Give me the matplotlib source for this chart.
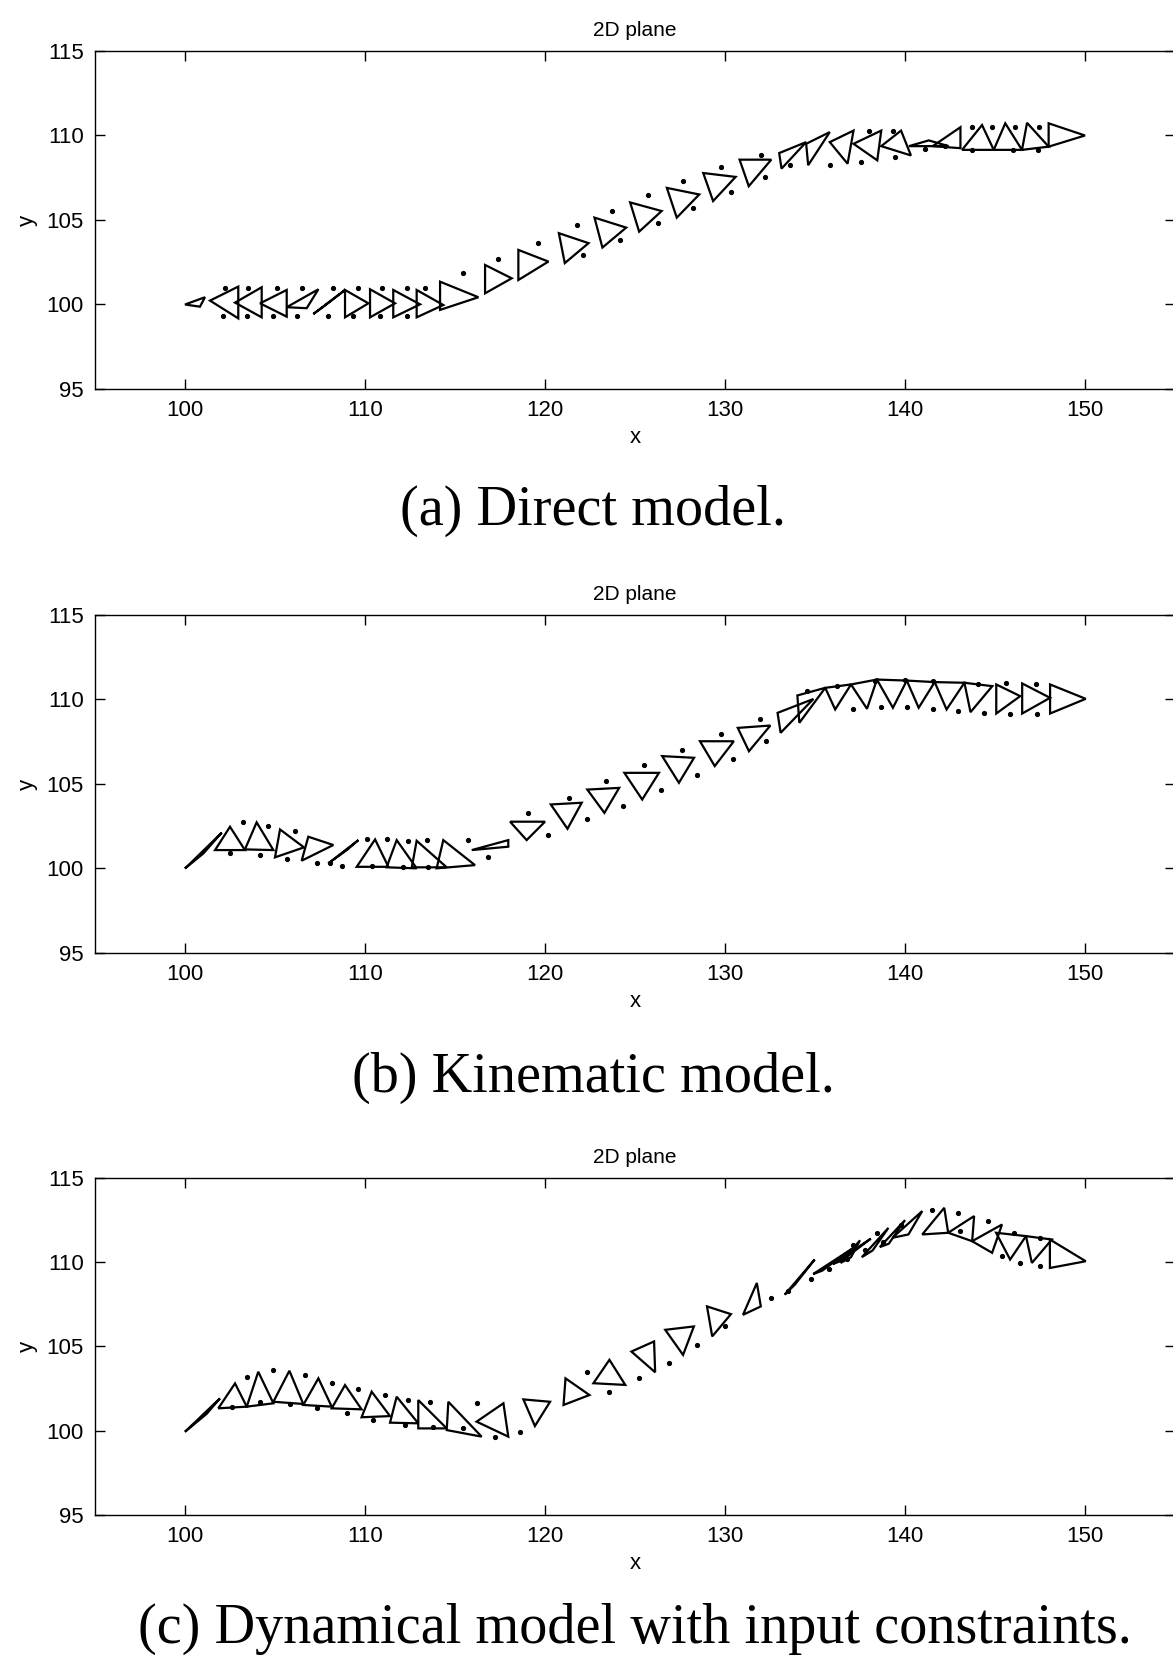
import numpy as np
import matplotlib
matplotlib.use("Agg")
import matplotlib.pyplot as plt
from matplotlib.collections import PolyCollection

# Each row is one formation snapshot: x1, y1, x2, y2, x3, y3
tri_direct = [
    [100.0, 100.0, 101.11, 100.43, 100.83, 99.87],
    [101.39, 100.23, 102.96, 101.06, 102.96, 99.18],
    [102.78, 100.11, 104.26, 101.02, 104.26, 99.24],
    [104.17, 100.07, 105.65, 100.86, 105.65, 99.28],
    [105.65, 99.84, 107.41, 100.90, 106.76, 99.78],
    [107.13, 99.44, 108.89, 100.86, 107.69, 99.87],
    [108.89, 100.86, 110.19, 100.07, 108.89, 99.24],
    [110.28, 100.90, 111.67, 100.07, 110.28, 99.24],
    [111.57, 100.86, 113.06, 100.01, 111.57, 99.24],
    [112.87, 100.86, 114.35, 99.97, 112.87, 99.24],
    [114.17, 101.35, 116.30, 100.43, 114.17, 99.68],
    [116.67, 102.34, 118.15, 101.55, 116.67, 100.66],
    [118.52, 103.23, 120.19, 102.54, 118.52, 101.45],
    [120.77, 104.22, 122.42, 103.63, 121.10, 102.45],
    [122.75, 105.14, 124.51, 104.55, 123.19, 103.37],
    [124.73, 106.04, 126.48, 105.53, 125.23, 104.31],
    [126.77, 106.90, 128.57, 106.51, 127.32, 105.14],
    [128.79, 107.78, 130.59, 107.55, 129.34, 106.12],
    [130.81, 108.57, 132.57, 108.57, 131.32, 107.00],
    [133.01, 108.96, 134.51, 109.61, 133.14, 108.04],
    [134.51, 109.51, 135.82, 110.20, 134.62, 108.24],
    [135.82, 109.61, 137.14, 110.29, 136.81, 108.33],
    [137.14, 109.51, 138.68, 110.29, 138.46, 108.53],
    [138.68, 109.37, 139.78, 110.29, 140.33, 108.82],
    [140.22, 109.37, 141.32, 109.71, 142.42, 109.37],
    [141.54, 109.37, 143.08, 110.49, 143.08, 109.25],
    [143.17, 109.15, 144.28, 110.62, 144.93, 109.15],
    [144.93, 109.15, 145.57, 110.72, 146.50, 109.15],
    [146.50, 109.15, 146.78, 110.75, 147.98, 109.34],
    [147.98, 110.72, 150.00, 110.00, 147.98, 109.34],
]
dots_direct_x = [102.22, 103.5, 105.09, 106.48, 108.24, 109.63, 110.93, 112.31, 113.33,
                 102.13, 103.43, 104.91, 106.2, 107.96, 109.35, 110.83, 112.31,
                 115.46, 117.41, 119.63,
                 121.76, 122.09, 123.74, 124.18, 125.71, 126.26, 127.69, 128.24,
                 129.78, 130.33, 131.98, 132.2,
                 133.63, 135.82, 137.58, 139.45, 141.1, 142.2, 138.02, 139.34,
                 143.72, 144.83, 146.13, 147.43, 143.7, 146.0, 147.4]
dots_direct_y = [100.96, 100.96, 100.96, 100.96, 100.96, 100.96, 100.96, 100.96, 100.96,
                 99.32, 99.32, 99.32, 99.32, 99.32, 99.32, 99.32, 99.32,
                 101.85, 102.67, 103.66,
                 104.71, 102.94, 105.53, 103.82, 106.47, 104.8, 107.29, 105.69,
                 108.14, 106.63, 108.82, 107.55,
                 108.24, 108.27, 108.43, 108.71, 109.18, 109.37, 110.29, 110.29,
                 110.52, 110.52, 110.52, 110.52, 109.14, 109.14, 109.14]

tri_kinematic = [
    [100.0, 100.0, 102.04, 102.12, 101.02, 100.89],
    [101.67, 101.09, 102.5, 102.47, 103.33, 101.09],
    [103.33, 101.13, 103.98, 102.73, 104.91, 101.09],
    [105.28, 102.31, 106.61, 101.25, 105.0, 100.66],
    [106.85, 101.88, 108.24, 101.39, 106.48, 100.46],
    [107.96, 100.3, 109.63, 101.68, 109.0, 101.1],
    [109.54, 100.1, 110.56, 101.72, 111.3, 100.1],
    [111.2, 100.07, 111.76, 101.68, 112.87, 100.01],
    [112.87, 101.64, 114.54, 100.07, 112.6, 100.07],
    [114.35, 101.68, 116.11, 100.2, 113.98, 100.01],
    [115.93, 101.09, 117.96, 101.68, 117.96, 101.29],
    [118.06, 102.77, 120.0, 102.77, 118.98, 101.68],
    [120.32, 103.79, 122.04, 103.89, 121.25, 102.35],
    [122.35, 104.67, 124.12, 104.77, 123.3, 103.29],
    [124.41, 105.66, 126.33, 105.66, 125.4, 104.08],
    [126.51, 106.65, 128.28, 106.55, 127.44, 105.07],
    [128.61, 107.53, 130.49, 107.53, 129.43, 106.06],
    [130.71, 108.32, 132.52, 108.46, 131.33, 106.94],
    [132.92, 109.21, 134.91, 110.03, 133.09, 108.03],
    [134.02, 110.24, 135.57, 110.69, 134.13, 108.62],
    [135.57, 110.69, 137.0, 110.89, 136.12, 109.41],
    [137.0, 110.89, 138.44, 111.18, 137.89, 109.45],
    [138.44, 111.18, 140.1, 111.12, 139.33, 109.51],
    [140.1, 111.12, 141.65, 111.03, 140.76, 109.51],
    [141.65, 111.03, 143.3, 110.99, 142.31, 109.41],
    [143.3, 110.99, 144.85, 110.79, 143.64, 109.25],
    [145.07, 110.89, 146.4, 110.2, 145.07, 109.17],
    [146.51, 110.95, 148.06, 110.1, 146.51, 109.17],
    [148.06, 110.89, 150.04, 110.04, 148.06, 109.17],
]
dots_kinematic_x = [103.24, 104.63, 106.11, 110.09, 111.2, 112.41, 113.43, 115.74, 119.07,
                    102.5, 104.17, 105.65, 107.31, 108.06, 108.7, 110.37, 112.13, 113.52,
                    116.85, 120.19,
                    121.31, 123.41, 125.51, 127.61, 129.78, 131.92,
                    122.31, 124.36, 126.46, 128.45, 130.44, 132.25,
                    134.57, 136.23, 138.33, 139.99, 141.54, 144.08, 145.62, 147.28,
                    137.12, 138.66, 140.1, 141.54, 142.97, 144.41, 145.85, 147.33]
dots_kinematic_y = [102.77, 102.51, 102.24, 101.72, 101.72, 101.64, 101.68, 101.68, 103.26,
                    100.89, 100.79, 100.54, 100.34, 100.3, 100.14, 100.14, 100.07, 100.07,
                    100.7, 101.98,
                    104.18, 105.17, 106.15, 107.04, 107.97, 108.82,
                    102.9, 103.69, 104.64, 105.56, 106.49, 107.57,
                    110.49, 110.79, 111.08, 111.18, 111.08, 110.89, 110.95, 110.89,
                    109.45, 109.57, 109.57, 109.45, 109.31, 109.21, 109.17, 109.17]

tri_dynamic = [
    [100.0, 99.94, 101.94, 101.92, 101.2, 101.0],
    [101.85, 101.33, 102.78, 102.81, 103.43, 101.43],
    [103.43, 101.43, 104.07, 103.5, 104.91, 101.63],
    [104.91, 101.72, 105.8, 103.56, 106.57, 101.59],
    [106.57, 101.53, 107.41, 103.11, 108.15, 101.43],
    [108.15, 101.33, 108.89, 102.71, 109.81, 101.27],
    [109.81, 100.8, 110.37, 102.32, 111.39, 100.87],
    [111.39, 100.48, 111.76, 102.02, 112.96, 100.44],
    [112.96, 100.14, 112.96, 101.82, 114.54, 100.14],
    [114.54, 100.04, 114.63, 101.72, 116.48, 99.65],
    [116.2, 100.54, 117.69, 101.63, 117.96, 99.65],
    [118.8, 101.86, 120.28, 101.72, 119.44, 100.28],
    [121.14, 103.11, 122.47, 102.12, 121.03, 101.53],
    [122.69, 102.82, 123.58, 104.21, 124.46, 102.72],
    [124.8, 104.7, 126.06, 105.3, 126.12, 103.47],
    [126.68, 105.99, 128.27, 106.19, 127.67, 104.5],
    [129.0, 107.38, 130.33, 106.92, 129.29, 105.6],
    [131.0, 106.88, 131.77, 108.77, 131.99, 107.38],
    [133.32, 108.08, 134.98, 110.16, 133.88, 108.67],
    [134.9, 109.3, 137.2, 110.9, 135.4, 109.5],
    [136.0, 109.9, 138.1, 111.4, 136.5, 110.1],
    [136.42, 109.96, 137.5, 111.3, 137.0, 110.3],
    [137.6, 110.3, 139.08, 112.04, 138.2, 110.7],
    [138.6, 110.9, 140.0, 112.5, 139.1, 111.1],
    [139.3, 111.45, 140.96, 113.04, 140.19, 111.65],
    [140.96, 111.65, 142.18, 113.23, 142.4, 111.75],
    [142.4, 111.75, 143.84, 112.74, 143.73, 111.25],
    [143.73, 111.25, 145.39, 112.24, 144.84, 110.56],
    [145.06, 111.75, 146.72, 111.55, 145.84, 110.16],
    [146.72, 111.55, 148.16, 111.35, 147.05, 109.96],
    [148.05, 111.35, 150.04, 110.06, 148.05, 109.66],
]
dots_dynamic_x = [103.43, 104.91, 106.67, 108.15, 109.63, 111.11, 112.41, 113.61, 116.2,
                  102.59, 104.17, 105.83, 107.31, 108.98, 110.46, 112.22, 113.8, 115.46,
                  117.22, 118.61,
                  122.36, 123.58, 125.24, 126.9, 128.45, 130.0, 132.55,
                  133.5, 134.8, 135.8, 136.8, 137.8, 138.8,
                  137.09, 138.42, 139.75, 141.52, 142.96, 144.62, 146.06, 147.5,
                  143.07, 145.39, 146.39, 147.5]
dots_dynamic_y = [103.21, 103.6, 103.31, 102.85, 102.46, 102.12, 101.83, 101.72, 101.63,
                  101.43, 101.72, 101.59, 101.33, 101.03, 100.64, 100.34, 100.24, 100.14,
                  99.65, 99.94,
                  103.51, 102.32, 103.11, 104.01, 105.1, 106.19, 107.88,
                  108.3, 109.0, 109.6, 110.2, 110.7, 111.2,
                  111.05, 111.75, 112.24, 113.13, 112.94, 112.44, 111.75, 111.45,
                  111.85, 110.36, 109.96, 109.76]

captions = ["(a) Direct model.", "(b) Kinematic model.",
            "(c) Dynamical model with input constraints."]
x_ticks = [100, 110, 120, 130, 140, 150]
y_ticks = [95, 100, 105, 110, 115]

W, H = 1173, 1662
fig = plt.figure(figsize=(W / 100, H / 100), dpi=100)

# pixel boxes (top, bottom) of each axes, and caption baselines
panels = [
    (tri_direct, dots_direct_x, dots_direct_y, 51, 389, (593, 525)),
    (tri_kinematic, dots_kinematic_x, dots_kinematic_y, 615, 953, (593, 1092)),
    (tri_dynamic, dots_dynamic_x, dots_dynamic_y, 1178, 1515, (635, 1643)),
]
left_px, right_px = 95, 1175

for (tri, dx, dy, top, bot, cap_xy), cap in zip(panels, captions):
    ax = fig.add_axes([left_px / W, 1 - bot / H, (right_px - left_px) / W, (bot - top) / H])
    verts = np.array(tri).reshape(-1, 3, 2)
    ax.add_collection(PolyCollection(verts, facecolors="none", edgecolors="black",
                                     linewidths=1.6, joinstyle="miter"))
    ax.plot(dx, dy, ".", color="black", markersize=5.5)
    ax.set_xlim(95, 155)
    ax.set_ylim(95, 115)
    ax.set_xticks(x_ticks)
    ax.set_yticks(y_ticks)
    ax.tick_params(direction="in", length=7, width=1, top=True, right=True, pad=8)
    for lab in ax.get_xticklabels() + ax.get_yticklabels():
        lab.set_fontfamily("Liberation Sans")
        lab.set_fontsize(16)
    for sp in ax.spines.values():
        sp.set_linewidth(1.0)
    ax.set_title("2D plane", fontfamily="Liberation Sans", fontsize=15, pad=11)
    ax.set_xlabel("x", fontfamily="Liberation Sans", fontsize=16, labelpad=4)
    ax.set_ylabel("y", fontfamily="Liberation Sans", fontsize=16, labelpad=6)
    fig.text(cap_xy[0] / W, 1 - cap_xy[1] / H, cap, ha="center", va="baseline",
             fontfamily="Liberation Serif", fontsize=40.5)

fig.savefig("out.png", dpi=100)
